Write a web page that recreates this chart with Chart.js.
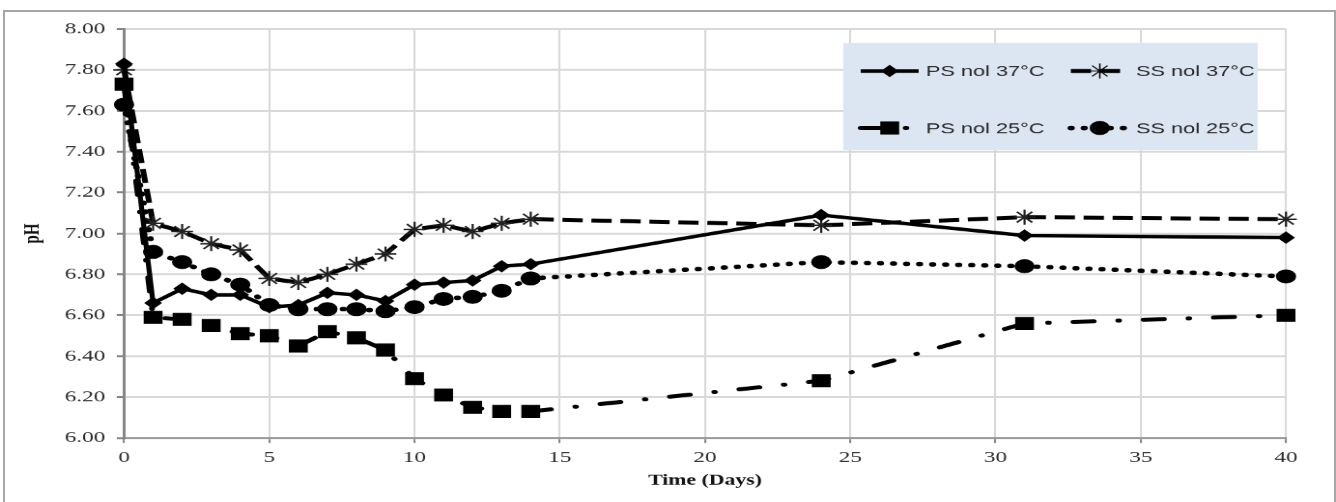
<!DOCTYPE html>
<html>
<head>
<meta charset="utf-8">
<script src="https://cdn.jsdelivr.net/npm/chart.js@4.4.1/dist/chart.umd.min.js"></script>
<style>
html, body { margin: 0; padding: 0; background: #fff; overflow: hidden; }
/* the source figure is stretched sideways, so the canvas is too */
#wrap { position: absolute; left: 0; top: 0; width: 922px; height: 502px; transform: scaleX(1.449); transform-origin: 0 0; }
#frame { position: absolute; left: 3px; top: 10px; width: 1333px; height: 520px; border: 2px solid #a6a6a6; box-sizing: border-box; pointer-events: none; }
</style>
</head>
<body>
<div id="wrap"><canvas id="phChart" width="922" height="502"></canvas></div>
<div id="frame"></div>
<script>
var days = [0, 1, 2, 3, 4, 5, 6, 7, 8, 9, 10, 11, 12, 13, 14, 24, 31, 40];
var psNol37 = [7.83, 6.66, 6.73, 6.70, 6.70, 6.64, 6.65, 6.71, 6.70, 6.67, 6.75, 6.76, 6.77, 6.84, 6.85, 7.09, 6.99, 6.98];
var ssNol37 = [7.80, 7.05, 7.01, 6.95, 6.92, 6.78, 6.76, 6.80, 6.85, 6.90, 7.02, 7.04, 7.01, 7.05, 7.07, 7.04, 7.08, 7.07];
var psNol25 = [7.73, 6.59, 6.58, 6.55, 6.51, 6.50, 6.45, 6.52, 6.49, 6.43, 6.29, 6.21, 6.15, 6.13, 6.13, 6.28, 6.56, 6.60];
var ssNol25 = [7.63, 6.91, 6.86, 6.80, 6.75, 6.65, 6.63, 6.63, 6.63, 6.62, 6.64, 6.68, 6.69, 6.72, 6.78, 6.86, 6.84, 6.79];
var seriesNames = ['PS nol 37°C', 'SS nol 37°C', 'PS nol 25°C', 'SS nol 25°C'];

function toPoints(vals) {
    return days.map(function(d, i) { return { x: d, y: vals[i] }; });
}

// legend drawn by hand: line sample + marker, like the Excel box
var legendBox = {
    id: 'legendBox',
    afterDraw: function(chart) {
        var ctx = chart.ctx;
        ctx.save();
        ctx.fillStyle = '#dce6f2';
        ctx.fillRect(582, 43, 286, 107);
        var slots = [[594, 71], [739, 71], [594, 128], [739, 128]];
        chart.data.datasets.forEach(function(ds, i) {
            var x = slots[i][0], y = slots[i][1];
            ctx.save();
            ctx.strokeStyle = '#000';
            ctx.lineWidth = ds.borderWidth;
            ctx.setLineDash(ds.borderDash || []);
            ctx.lineCap = ds.borderCapStyle || 'butt';
            ctx.beginPath();
            ctx.moveTo(x, y);
            ctx.lineTo(x + 40, y);
            ctx.stroke();
            ctx.restore();
            ctx.fillStyle = '#000';
            ctx.strokeStyle = '#000';
            Chart.helpers.drawPoint(ctx, {
                pointStyle: ds.pointStyle,
                radius: ds.pointRadius,
                borderWidth: ds.pointBorderWidth,
                rotation: 0
            }, x + 20, y);
            ctx.fillStyle = '#262626';
            ctx.font = '15px "Liberation Sans"';
            ctx.textBaseline = 'middle';
            ctx.textAlign = 'left';
            ctx.fillText(seriesNames[i], x + 45, y + 1);
        });
        ctx.restore();
    }
};

var ctx = document.getElementById('phChart').getContext('2d');
var phChart = new Chart(ctx, {
    type: 'line',
    data: {
        datasets: [{
            label: seriesNames[0],
            data: toPoints(psNol37),
            borderColor: '#000',
            backgroundColor: '#000',
            borderWidth: 3.5,
            pointStyle: 'rectRot',
            pointRadius: 5.5,
            pointBorderWidth: 1,
            clip: false
        }, {
            label: seriesNames[1],
            data: toPoints(ssNol37),
            borderColor: '#000',
            backgroundColor: '#000',
            borderWidth: 4,
            borderDash: [14, 6],
            pointStyle: 'star',
            pointRadius: 7.5,
            pointBorderWidth: 1.5,
            pointBorderColor: '#222',
            clip: false
        }, {
            label: seriesNames[2],
            data: toPoints(psNol25),
            borderColor: '#000',
            backgroundColor: '#000',
            borderWidth: 4,
            borderDash: [14, 17, 0.5, 17],
            borderCapStyle: 'round',
            pointStyle: 'rect',
            pointRadius: 8.5,
            pointBorderWidth: 1,
            clip: false
        }, {
            label: seriesNames[3],
            data: toPoints(ssNol25),
            borderColor: '#000',
            backgroundColor: '#000',
            borderWidth: 4.5,
            borderDash: [0.5, 8.5],
            borderCapStyle: 'round',
            pointStyle: 'circle',
            pointRadius: 6.5,
            pointBorderWidth: 1,
            clip: false
        }]
    },
    options: {
        responsive: false,
        animation: false,
        devicePixelRatio: 1.5,
        layout: { padding: { left: 10, top: 29, right: 34.5, bottom: 4 } },
        plugins: {
            legend: { display: false },
            tooltip: { enabled: false }
        },
        scales: {
            x: {
                type: 'linear',
                min: 0,
                max: 40,
                ticks: {
                    stepSize: 5,
                    padding: 5,
                    color: '#2b2b2b',
                    font: { family: '"Liberation Serif"', size: 16 }
                },
                grid: { color: '#d9d9d9', lineWidth: 1.4, tickColor: '#868686', tickLength: 5 },
                border: { color: '#868686', width: 1.4 },
                title: {
                    display: true,
                    text: 'Time (Days)',
                    color: '#111',
                    font: { family: '"Liberation Serif"', size: 15, weight: 'bold' },
                    padding: { top: 4, bottom: 8 }
                },
                afterFit: function(scale) { scale.height = 60; }
            },
            y: {
                min: 6,
                max: 8,
                ticks: {
                    stepSize: 0.2,
                    padding: 8,
                    color: '#2b2b2b',
                    font: { family: '"Liberation Serif"', size: 16 },
                    callback: function(v) { return v.toFixed(2); }
                },
                grid: { color: '#d9d9d9', lineWidth: 2, tickColor: '#868686', tickLength: 5 },
                border: { color: '#868686', width: 2 },
                title: {
                    display: true,
                    text: 'pH',
                    color: '#111',
                    font: { family: '"Liberation Serif"', size: 15, weight: 'bold' },
                    padding: { top: 4, bottom: 0 }
                },
                afterFit: function(scale) { scale.width = 75.6; }
            }
        }
    },
    plugins: [legendBox]
});
</script>
</body>
</html>
